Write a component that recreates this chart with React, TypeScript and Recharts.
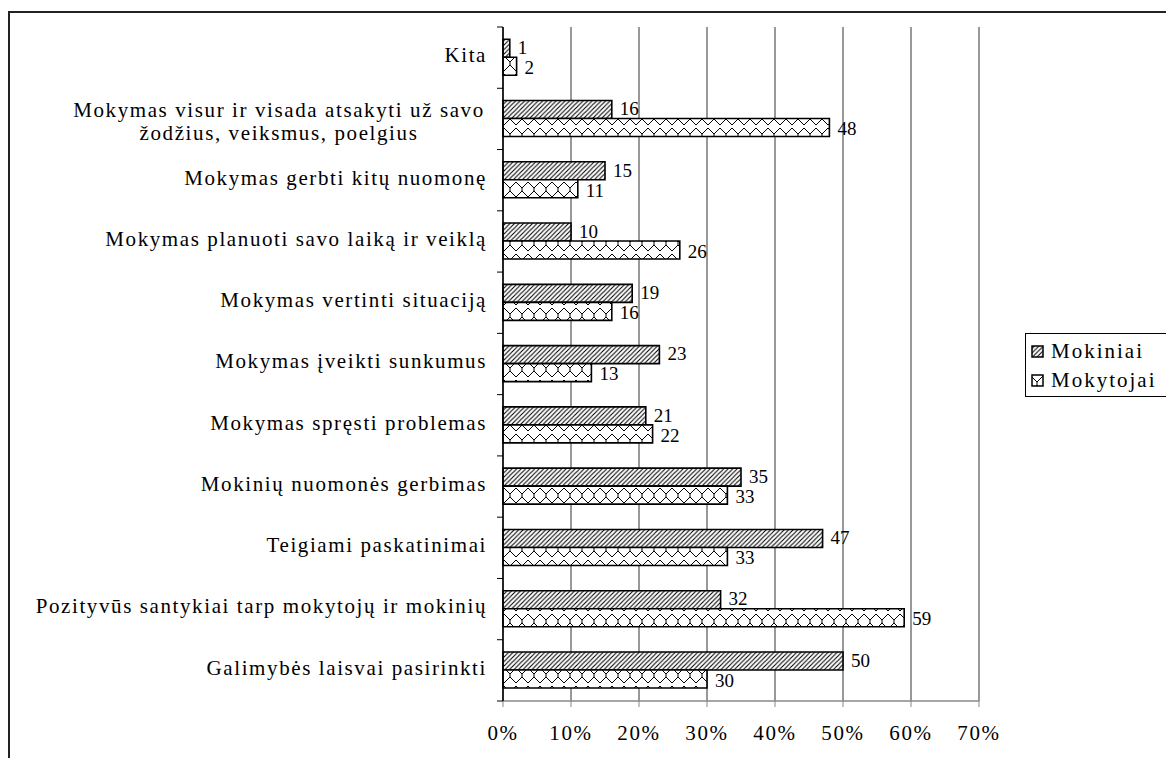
import React from 'react';
import { BarChart, Bar, XAxis, YAxis, CartesianGrid, LabelList, Legend } from 'recharts';

const categories = [
  'Kita',
  'Mokymas visur ir visada atsakyti už savo\nžodžius, veiksmus, poelgius',
  'Mokymas gerbti kitų nuomonę',
  'Mokymas planuoti savo laiką ir veiklą',
  'Mokymas vertinti situaciją',
  'Mokymas įveikti sunkumus',
  'Mokymas spręsti problemas',
  'Mokinių nuomonės gerbimas',
  'Teigiami paskatinimai',
  'Pozityvūs santykiai tarp mokytojų ir mokinių',
  'Galimybės laisvai pasirinkti',
];
const mokiniai = [1, 16, 15, 10, 19, 23, 21, 35, 47, 32, 50];
const mokytojai = [2, 48, 11, 26, 16, 13, 22, 33, 33, 59, 30];
const seriesNames = ['Mokiniai', 'Mokytojai'];
const xTicks = [0, 10, 20, 30, 40, 50, 60, 70];

const data = categories.map((c, i) => ({ cat: c, a: mokiniai[i], b: mokytojai[i] }));

const W = 1166;
const H = 758;
const MARGIN = { top: 27, right: 187, bottom: 27, left: 8 };
const Y_W = 495;
const X_H = 30;
const AXIS_X = MARGIN.left + Y_W;
const PLOT_H = H - MARGIN.top - MARGIN.bottom - X_H;
const FONT = '"Liberation Serif", "Times New Roman", serif';
const FS = 21;
const LS = 1.6;

const Patterns = ({ prefix }: { prefix: string }) => (
  <defs>
    <pattern id={prefix + 'hatch'} patternUnits="userSpaceOnUse" width="4.5" height="4.5">
      <rect width="4.5" height="4.5" fill="#fff" />
      <path d="M-1,1 l2,-2 M0,4.5 l4.5,-4.5 M3.5,5.5 l2,-2" stroke="#000" strokeWidth="1.1" />
    </pattern>
    <pattern id={prefix + 'weave'} patternUnits="userSpaceOnUse" width="12" height="18">
      <rect width="12" height="18" fill="#fff" />
      <path d="M0,2 L6,8 L12,2 M6,8 L6,11 M6,11 L0,17 M6,11 L12,17" stroke="#000" strokeWidth="1" fill="none" />
    </pattern>
  </defs>
);

const YTick = (props: any) => {
  const { y, payload, index } = props;
  const band = PLOT_H / categories.length;
  const lines: string[] = String(payload.value).split('\n');
  const labelX = AXIS_X - 16;
  const top = y - band / 2;
  return (
    <g>
      <line x1={AXIS_X - 6} x2={AXIS_X} y1={top} y2={top} stroke="#000" strokeWidth={1} />
      {index === categories.length - 1 && (
        <line x1={AXIS_X - 6} x2={AXIS_X} y1={top + band} y2={top + band} stroke="#000" strokeWidth={1} />
      )}
      {lines.length === 1 ? (
        <text x={labelX} y={y - 3} dy="0.35em" textAnchor="end" fontSize={FS} fill="#000" fontFamily={FONT} letterSpacing={LS}>
          {lines[0]}
        </text>
      ) : (
        <text x={labelX - 208} y={y - 9} textAnchor="middle" fontSize={FS} fill="#000" fontFamily={FONT} letterSpacing={LS}>
          {lines.map((l, i) => (
            <tspan key={i} x={labelX - 208} dy={i === 0 ? '0.35em' : 23}>
              {l}
            </tspan>
          ))}
        </text>
      )}
    </g>
  );
};

const LegendContent = () => (
  <div
    style={{
      border: '1px solid #000',
      background: '#fff',
      width: 160,
      height: 64,
      boxSizing: 'border-box',
      fontFamily: FONT,
      fontSize: FS,
      letterSpacing: 2,
      paddingTop: 3,
      paddingLeft: 5,
    }}
  >
    {seriesNames.map((n, i) => (
      <div key={n} style={{ display: 'flex', alignItems: 'center', height: 29 }}>
        <svg width={13} height={13} style={{ marginRight: 7 }}>
          <Patterns prefix={'lg' + i} />
          <rect x={1} y={1} width={11} height={11} fill={`url(#lg${i}${i === 0 ? 'hatch' : 'weave'})`} stroke="#000" strokeWidth={1.5} />
        </svg>
        <span>{n}</span>
      </div>
    ))}
  </div>
);

export default function App() {
  return (
    <div style={{ position: 'absolute', left: 0, top: 0, width: W, height: H, overflow: 'hidden', background: '#fff' }}>
      <div style={{ position: 'absolute', left: 8, top: 11, width: W, height: 2, background: '#222' }} />
      <div style={{ position: 'absolute', left: 8, top: 11, width: 2, height: H, background: '#222' }} />
      <BarChart
        width={W}
        height={H}
        data={data}
        layout="vertical"
        margin={MARGIN}
        barCategoryGap="20%"
        barGap={0}
        style={{ fontFamily: FONT }}
      >
        <Patterns prefix="c" />
        <CartesianGrid horizontal={false} vertical stroke="#333" strokeWidth={1} />
        <XAxis
          type="number"
          domain={[0, 70]}
          ticks={xTicks}
          interval={0}
          tickFormatter={(v: number) => v + '%'}
          height={X_H}
          axisLine={{ stroke: '#888', strokeWidth: 1.5 }}
          tickLine={{ stroke: '#888' }}
          tickSize={6}
          tickMargin={18}
          tick={{ fontSize: FS, fill: '#000', fontFamily: FONT, letterSpacing: LS } as any}
        />
        <YAxis
          type="category"
          dataKey="cat"
          width={Y_W}
          interval={0}
          axisLine={{ stroke: '#000', strokeWidth: 1.5 }}
          tickLine={false}
          tick={<YTick />}
        />
        <Legend
          layout="vertical"
          align="center"
          verticalAlign="middle"
          content={<LegendContent />}
          wrapperStyle={{ position: 'absolute', left: 1025, top: 333, width: 160, height: 64 }}
        />
        <Bar dataKey="a" name={seriesNames[0]} fill="url(#chatch)" stroke="#000" strokeWidth={1.6} isAnimationActive={false}>
          <LabelList dataKey="a" position="right" offset={8} fill="#000" fontSize={19} fontFamily={FONT} dy={-1} />
        </Bar>
        <Bar dataKey="b" name={seriesNames[1]} fill="url(#cweave)" stroke="#000" strokeWidth={1.6} isAnimationActive={false}>
          <LabelList dataKey="b" position="right" offset={8} fill="#000" fontSize={19} fontFamily={FONT} dy={1} />
        </Bar>
      </BarChart>
    </div>
  );
}
